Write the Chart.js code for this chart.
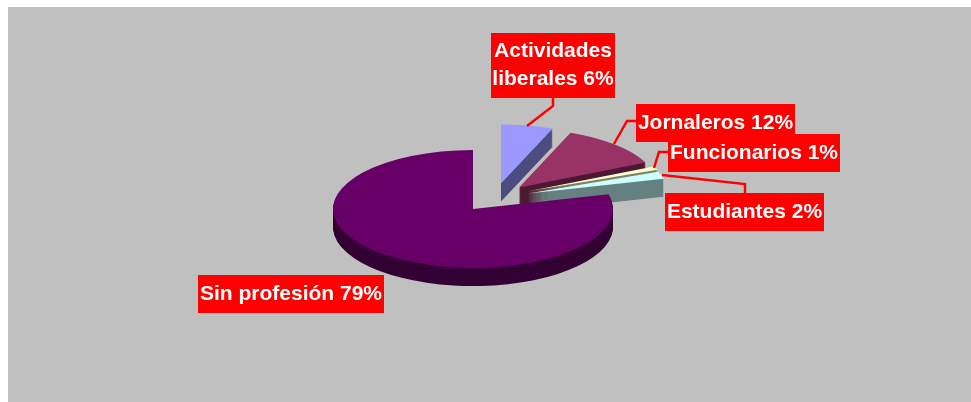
<!DOCTYPE html>
<html>
<head>
<meta charset="utf-8">
<style>html,body{margin:0;padding:0;background:#fff}canvas{display:block}</style>
<script src="https://cdn.jsdelivr.net/npm/chart.js@4/dist/chart.umd.min.js"></script>
</head>
<body>
<canvas id="c" width="971" height="402"></canvas>
<script>
const categories = ["Actividades liberales", "Jornaleros", "Funcionarios", "Estudiantes", "Sin profesión"];
const shares = [6, 12, 1, 2, 79];
const topColors = ["#9999FF", "#993366", "#FFFFCC", "#CCFFFF", "#660066"];
const sideColors = ["#4C4C80", "#4C1933", "#808066", "#668080", "#330033"];
const explodeX = [28, 46, 54, 55, 0];
const explodeY = [-25.5, -21.5, -17.5, -15.5, 0];
const labelLines = [["Actividades", "liberales"], ["Jornaleros"], ["Funcionarios"], ["Estudiantes"], ["Sin profesión"]];
const labelBoxes = [[491, 33, 124, 65], [636, 104, 159, 38], [668, 134, 172, 38], [665, 193, 159, 38], [198, 275, 186, 38]];
const leaders = [
  [[553, 98], [553, 106], [527, 126]],
  [[637, 121], [627, 121], [614, 144]],
  [[668, 152], [659, 152], [654, 168]],
  [[662, 175], [745, 184], [745, 193]],
  []
];
const SQUASH = 59 / 140, DEPTH = 18;

const pie3d = {
  id: "pie3d",
  beforeDraw(chart) {
    const g = chart.ctx;
    g.save();
    g.fillStyle = "#C0C0C0";
    g.fillRect(8, 7, chart.width - 8, chart.height - 7);
    g.restore();
  },
  beforeDatasetDraw(chart, args) {
    const g = chart.ctx;
    const arcs = args.meta.data;
    arcs.forEach((el, i) => {
      const p = el.getProps(["x", "y", "startAngle", "endAngle", "outerRadius"], true);
      const cx = p.x + explodeX[i], cy = p.y + explodeY[i];
      g.fillStyle = sideColors[i];
      for (let d = DEPTH; d >= 1; d--) {
        g.beginPath();
        g.moveTo(cx, cy + d);
        g.ellipse(cx, cy + d, p.outerRadius, p.outerRadius * SQUASH, 0, p.startAngle, p.endAngle);
        g.closePath();
        g.fill();
      }
      g.save();
      g.translate(cx, cy);
      g.scale(1, SQUASH);
      g.translate(-p.x, -p.y);
      el.draw(g);
      g.restore();
    });
    return false;
  },
  afterDatasetsDraw(chart) {
    const g = chart.ctx;
    g.save();
    g.strokeStyle = "#FF0000";
    g.lineWidth = 2.5;
    leaders.forEach(pts => {
      if (!pts.length) return;
      g.beginPath();
      pts.forEach((q, k) => k ? g.lineTo(q[0], q[1]) : g.moveTo(q[0], q[1]));
      g.stroke();
    });
    g.font = "bold 21px 'Liberation Sans'";
    g.textAlign = "center";
    g.textBaseline = "middle";
    const LINE = 28;
    labelBoxes.forEach((b, i) => {
      g.fillStyle = "#FF0000";
      g.fillRect(b[0], b[1], b[2], b[3]);
      g.fillStyle = "#FFFFFF";
      const lines = labelLines[i].slice();
      lines[lines.length - 1] += " " + shares[i] + "%";
      const y0 = b[1] + b[3] / 2 - (lines.length - 1) * LINE / 2;
      lines.forEach((t, k) => g.fillText(t, b[0] + b[2] / 2, y0 + k * LINE));
    });
    g.restore();
  }
};

new Chart(document.getElementById("c"), {
  type: "pie",
  data: {
    labels: categories,
    datasets: [{ data: shares, backgroundColor: topColors, borderWidth: 0, hoverOffset: 0 }]
  },
  options: {
    responsive: false,
    animation: false,
    devicePixelRatio: 1,
    rotation: 0,
    layout: { padding: { left: 333, right: 358, top: 69, bottom: 53 } },
    plugins: { legend: { display: false }, tooltip: { enabled: false } }
  },
  plugins: [pie3d]
});
</script>
</body>
</html>
